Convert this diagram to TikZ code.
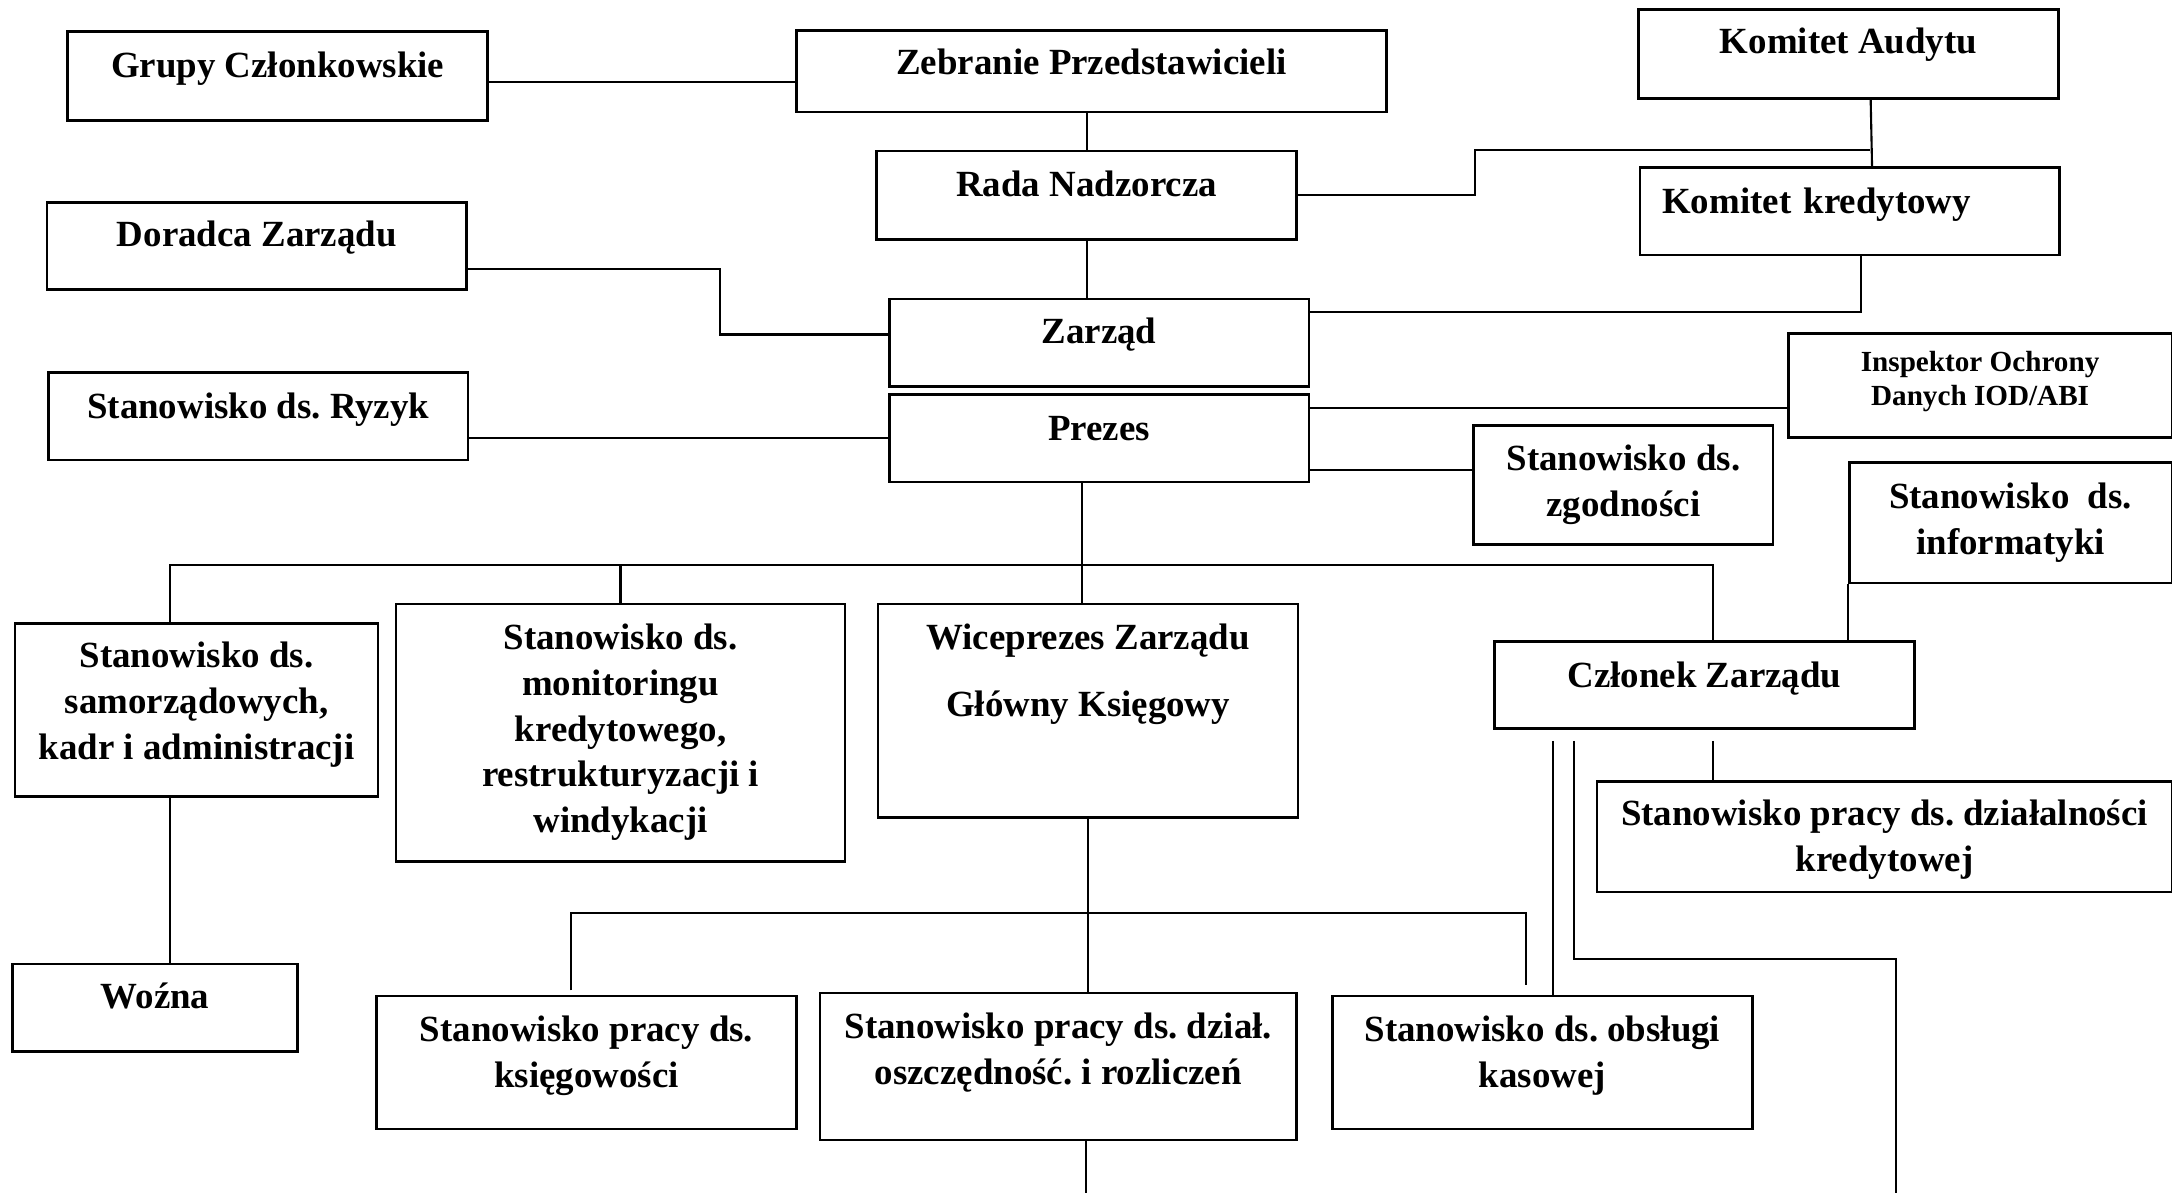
\documentclass[tikz,border=0pt]{standalone}
\usepackage{fontspec}
\setmainfont{Liberation Serif}
\usepackage{tikz}
\usetikzlibrary{positioning}

\newdimen\pxu
\pxu=0.01385cm
\newcommand{\orgfont}{\bfseries\fontsize{10.5}{13}\selectfont}
\newcommand{\orgsmall}{\bfseries\fontsize{8.3}{9.8}\selectfont}

\tikzset{
orgbox/.style n args={3}{draw, line width=0.75pt, anchor=north west, inner xsep=0pt, inner ysep=0pt,
    minimum width=#1\pxu, text height=#2\pxu, text depth=#3\pxu, align=center, font=\orgfont},
link/.style={line width=0.6pt}
}

\frenchspacing

\begin{document}
\begin{tikzpicture}[x=0.01385cm, y=-0.01385cm]

\useasboundingbox (0,0) rectangle (1568,861);

% nodes
{

\node[orgbox={303}{33}{31}] (grupy) at (48,22) {Grupy Członkowskie};
\node[orgbox={426}{32}{27}] (zebranie) at (574,21) {Zebranie Przedstawicieli};
\node[orgbox={303}{32}{32}] (audytu) at (1182,6) {Komitet Audytu};

\node[orgbox={303}{33}{31}] (rada) at (632,108) {Rada Nadzorcza};
\node[orgbox={303}{33}{30}, align=left, text width=271\pxu, inner xsep=16\pxu] (kredytowy) at (1183,120) {Komitet kredytowy};
\node[orgbox={303}{32}{31}] (doradca) at (33,145) {Doradca Zarządu};

\node[orgbox={303}{32}{31}] (zarzad) at (641,215) {Zarząd};
\node[orgbox={277}{52}{23}, font=\orgsmall] (inspektor) at (1290,240) {Inspektor Ochrony\\Danych IOD/ABI};
\node[orgbox={303}{33}{30}] (ryzyk) at (34,268) {Stanowisko ds. Ryzyk};
\node[orgbox={303}{33}{30}] (prezes) at (641,284) {Prezes};
\node[orgbox={216}{66}{20}] (zgodnosci) at (1063,306) {Stanowisko ds.\\zgodności};
\node[orgbox={233}{66}{21}] (informatyki) at (1334,333) {Stanowisko~ ds.\\informatyki};

\node[orgbox={262}{98}{27}] (samorzad) at (10,449) {Stanowisko ds.\\samorządowych,\\kadr i administracji};
\node[orgbox={324}{165}{21}] (monitoring) at (285,435) {Stanowisko ds.\\monitoringu\\kredytowego,\\restrukturyzacji i\\windykacji};
\node[orgbox={303}{81}{73}] (wiceprezes) at (633,435) {Wiceprezes Zarządu\\[6pt]Główny Księgowy};
\node[orgbox={303}{33}{30}] (czlonek) at (1078,462) {Członek Zarządu};
\node[orgbox={415}{65}{15}] (dzialalnosci) at (1152,563) {Stanowisko pracy ds. działalności\\kredytowej};

\node[orgbox={206}{32}{31}] (wozna) at (8,695) {Woźna};
\node[orgbox={303}{66}{30}] (ksiegowosci) at (271,718) {Stanowisko pracy ds.\\księgowości};
\node[orgbox={344}{66}{40}] (dzial) at (591,716) {Stanowisko pracy ds. dział.\\oszczędność. i rozliczeń};
\node[orgbox={303}{66}{30}] (kasowa) at (961,718) {Stanowisko ds. obsługi\\kasowej};

}

% bends and free ends
\coordinate (auditjoin) at (1350,108);
\coordinate (bus) at (781,408);
\coordinate (bus2) at (784,659);
\coordinate (turn) at (1369,692);
\coordinate (cashend) at (1369,861);
\coordinate (dzialend) at (784,861);

%black lines
{

\draw[link] ([yshift=-4\pxu]grupy.east) coordinate (g1) -- (g1 -| zebranie.west);
\draw[link] (rada.north) -- (rada.north |- zebranie.south);
\draw[link] (rada.south) -- (rada.south |- zarzad.north);

\draw[link] (rada.east) -- ++(128,0) |- (auditjoin);
\draw[link] ([xshift=16\pxu]audytu.south) -- ([xshift=16\pxu]kredytowy.north);

\draw[link] ([yshift=-17\pxu]doradca.east) -- ++(182,0) |- ([yshift=6\pxu]zarzad.west);
\draw[link] ([yshift=22\pxu]zarzad.east) -| ([xshift=8\pxu]kredytowy.south);

\draw[link] (prezes.west) -- (prezes.west -| ryzyk.east);
\draw[link] ([yshift=22\pxu]prezes.east) coordinate (p1) -- (p1 -| inspektor.west);
\draw[link] ([yshift=-23\pxu]prezes.east) coordinate (p2) -- (p2 -| zgodnosci.west);

\draw[link] (bus |- prezes.south) -- (bus);
\draw[link] ([xshift=-19\pxu]samorzad.north) |- (bus) -| ([xshift=6\pxu]czlonek.north);
\draw[link] (monitoring.north) -- (monitoring.north |- bus);
\draw[link] (bus) -- (bus |- wiceprezes.north);
\draw[link] (informatyki.south west) -- (informatyki.south west |- czlonek.north);

\draw[link] ([xshift=-19\pxu]samorzad.south) coordinate (s1) -- (s1 |- wozna.north);
\draw[link] ([xshift=6\pxu,yshift=-8\pxu]czlonek.south) coordinate (c1) -- (c1 |- dzialalnosci.north);

\draw[link] (wiceprezes.south) -- (wiceprezes.south |- dzial.north);
\draw[link] ([xshift=-11\pxu,yshift=3\pxu]ksiegowosci.north) |- (bus2) -| ([xshift=-12\pxu,yshift=7\pxu]kasowa.north);

\draw[link] ([xshift=43\pxu,yshift=-8\pxu]czlonek.south west) coordinate (c2) -- (c2 |- kasowa.north);
\draw[link] ([xshift=58\pxu,yshift=-8\pxu]czlonek.south west) |- (turn) -- (cashend);

\draw[link] (dzialend |- dzial.south) -- (dzialend);

}

\end{tikzpicture}
\end{document}
